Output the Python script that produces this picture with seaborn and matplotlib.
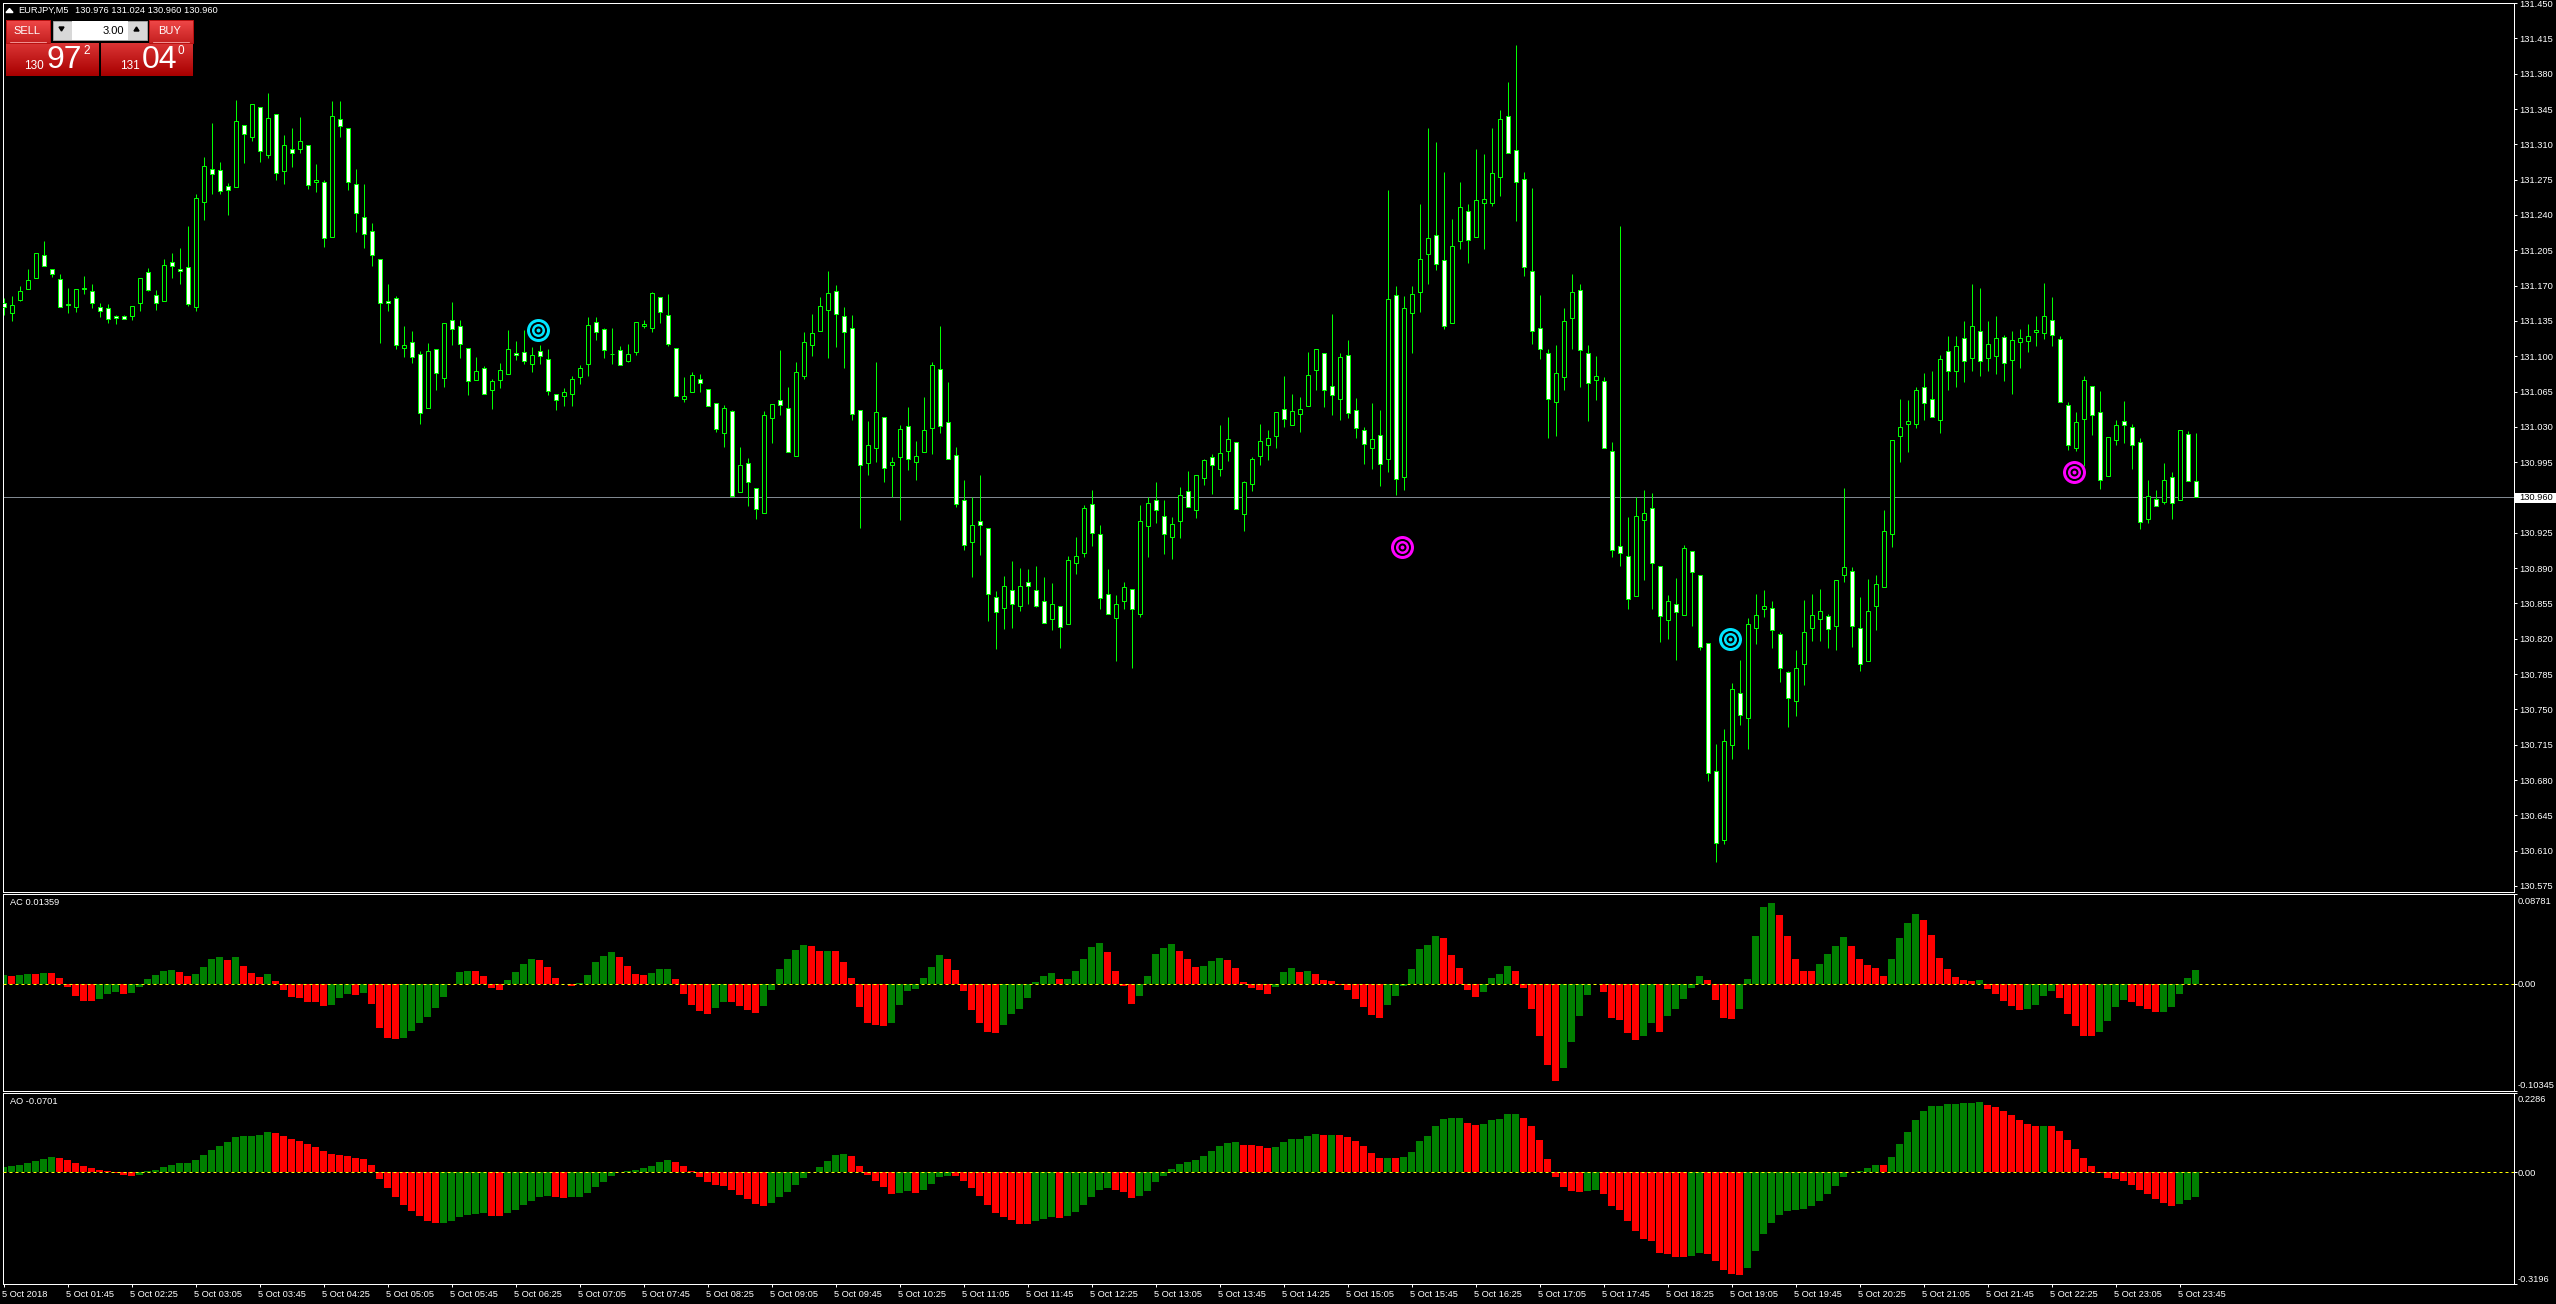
import matplotlib
matplotlib.use('Agg')
import matplotlib.pyplot as plt
from matplotlib.colors import LinearSegmentedColormap
from matplotlib.patches import Rectangle
from matplotlib.transforms import ScaledTranslation
import numpy as np
import pandas as pd
import seaborn as sns

W, H = 2556, 1304

# EURJPY M5 candles, prices as points above 130.000
highs = [
    1158,1160,1170,1186,1202,1214,1186,1182,1168,1167, 1180,1172,1153,1152,1141,1141,1150,1178,1187,1166,
    1196,1202,1207,1229,1261,1297,1331,1293,1272,1354, 1329,1350,1347,1361,1340,1319,1326,1337,1309,1291,
    1275,1353,1353,1326,1286,1271,1232,1196,1172,1160, 1130,1125,1105,1113,1107,1133,1154,1136,1108,1099,
    1090,1077,1093,1126,1115,1126,1109,1111,1107,1063, 1069,1080,1091,1139,1139,1128,1128,1110,1112,1134,
    1136,1164,1159,1162,1108,1079,1084,1082,1068,1054, 1052,1047,1010,999,969,1046,1053,1106,1070,1094,
    1124,1142,1159,1184,1171,1149,1141,1047,1036,1094, 1040,1000,1032,1050,1016,1060,1094,1130,1074,1010,
    977,960,982,930,867,882,897,890,889,892, 881,875,852,902,921,953,967,933,889,863,
    876,869,953,960,975,958,941,970,986,982, 998,1003,1032,1040,1015,976,1000,1033,1027,1045,
    1080,1063,1060,1104,1107,1103,1142,1103,1116,1059, 1030,1054,1047,1265,1170,1160,1170,1251,1326,1312,
    1283,1236,1273,1251,1305,1300,1326,1344,1372,1408, 1283,1267,1161,1107,1111,1148,1182,1172,1111,1100,
    1079,1015,1229,941,960,967,964,892,863,880, 913,907,883,816,716,731,776,799,841,864,
    868,857,827,788,809,858,864,869,845,878, 969,891,861,879,883,948,1017,1058,1057,1070,
    1083,1085,1101,1120,1120,1135,1172,1168,1135,1140, 1121,1125,1127,1132,1140,1173,1159,1120,1055,1045,
    1080,1071,1066,1020,1037,1056,1033,1019,977,967, 994,985,1027,1026,1024,
]
body_hi = [
    1153,1151,1165,1176,1202,1200,1186,1177,1152,1167, 1168,1165,1149,1148,1140,1140,1150,1178,1183,1161,
    1190,1193,1186,1188,1257,1289,1286,1285,1269,1333, 1329,1350,1347,1336,1340,1309,1305,1313,1309,1275,
    1273,1338,1335,1326,1271,1238,1224,1196,1155,1158, 1111,1114,1102,1105,1107,1133,1136,1130,1108,1085,
    1088,1075,1086,1107,1103,1104,1101,1105,1097,1063, 1065,1077,1088,1131,1134,1127,1102,1106,1102,1134,
    1132,1163,1159,1141,1108,1061,1081,1077,1068,1054, 1049,1046,992,994,969,1042,1053,1057,1049,1084,
    1114,1123,1150,1163,1165,1140,1128,1047,1012,1045, 1040,995,1028,1031,1001,1027,1091,1087,1035,1002,
    958,933,937,930,861,872,868,872,876,868, 857,854,852,898,902,950,954,924,864,854,
    871,869,937,955,958,942,934,962,966,982, 997,1000,1004,1018,1015,975,998,1016,1019,1045,
    1048,1046,1048,1081,1107,1103,1071,1099,1101,1047, 1027,1018,1022,1157,1161,1148,1162,1196,1217,1220,
    1195,1209,1248,1244,1255,1256,1282,1335,1338,1304, 1276,1184,1128,1103,1083,1135,1164,1166,1103,1080,
    1075,1006,912,902,942,945,950,892,857,854, 910,907,883,816,689,719,770,766,835,844,
    852,850,825,787,791,827,844,848,843,878, 891,887,831,848,874,927,1017,1030,1036,1067,
    1070,1058,1097,1105,1110,1118,1130,1125,1112,1118, 1119,1116,1118,1120,1126,1140,1136,1117,1052,1035,
    1076,1071,1045,1020,1032,1036,1030,1015,961,959, 977,980,1027,1023,976,
]
body_lo = [
    1149,1143,1156,1167,1178,1189,1182,1149,1151,1149, 1167,1153,1145,1137,1138,1137,1140,1153,1166,1153,
    1155,1189,1184,1152,1149,1253,1281,1264,1265,1268, 1320,1317,1303,1299,1282,1284,1301,1305,1270,1273,
    1217,1218,1328,1273,1242,1221,1200,1153,1153,1111, 1108,1099,1044,1049,1083,1078,1127,1112,1075,1076,
    1063,1067,1076,1082,1101,1095,1092,1100,1066,1057, 1061,1063,1079,1092,1124,1106,1102,1091,1095,1104,
    1130,1128,1144,1112,1061,1058,1065,1073,1051,1028, 1024,961,965,975,949,945,1039,1052,1005,1001,
    1080,1111,1125,1146,1142,1124,1043,992,994,1009, 989,992,1000,998,995,1005,1029,1031,998,954,
    913,916,933,864,847,850,854,852,872,852, 836,840,832,835,895,905,925,860,845,841,
    857,849,845,932,948,924,921,937,951,948, 979,992,988,1006,949,944,973,1001,1012,1021,
    1038,1032,1043,1051,1086,1067,1062,1058,1044,1029, 1013,1009,993,998,978,980,1143,1164,1201,1191,
    1130,1133,1214,1215,1218,1252,1252,1278,1301,1273, 1188,1125,1107,1058,1055,1079,1138,1106,1073,1076,
    1009,908,905,859,862,938,895,843,839,847, 844,886,812,687,618,621,715,744,741,831,
    849,829,791,761,758,795,831,840,830,833, 883,833,795,798,852,871,924,1021,1033,1033,
    1054,1040,1037,1085,1085,1095,1098,1095,1098,1100, 1093,1096,1114,1115,1124,1123,1121,1055,1012,1009,
    1038,1042,977,981,1017,1032,1012,936,939,952, 956,955,958,976,960,
]
lows = [
    1141,1135,1155,1167,1178,1189,1179,1149,1143,1144, 1162,1148,1139,1133,1132,1137,1136,1145,1165,1146,
    1155,1178,1172,1150,1145,1235,1261,1261,1240,1268, 1292,1313,1293,1296,1275,1271,1288,1301,1266,1263,
    1208,1218,1317,1265,1223,1207,1189,1113,1145,1107, 1099,1093,1033,1049,1067,1070,1111,1098,1062,1076,
    1063,1048,1069,1082,1096,1092,1084,1092,1062,1047, 1051,1051,1072,1080,1116,1098,1092,1091,1094,1101,
    1128,1124,1133,1110,1061,1055,1065,1065,1051,1025, 1010,961,965,952,939,945,1014,1042,1005,1001,
    1077,1100,1125,1098,1109,1088,1037,930,982,995, 975,960,938,987,977,1005,1003,1024,998,951,
    908,881,903,838,810,830,831,848,854,851, 836,829,811,835,884,901,912,849,845,798,
    849,791,842,901,935,904,899,920,951,940, 972,963,981,996,949,927,966,992,997,1009,
    1030,1032,1025,1051,1067,1050,1042,1037,1039,1019, 993,988,971,985,962,967,1103,1144,1172,1185,
    1127,1133,1206,1192,1218,1206,1249,1259,1301,1234, 1180,1112,1097,1019,1021,1067,1107,1070,1036,1057,
    1009,901,892,849,862,878,849,817,820,799, 844,833,809,679,599,617,701,735,711,815,
    842,811,777,733,743,774,818,818,811,809, 876,812,788,798,829,871,911,995,1005,1029,
    1037,1040,1024,1067,1070,1074,1085,1080,1085,1082, 1075,1063,1088,1104,1110,1117,1110,1055,1007,1006,
    991,1022,968,981,1012,1014,988,929,935,952, 954,939,958,976,960,
]
# U = bullish (hollow), D = bearish (white)
candle_dir = (
    'DUUUUDDDDU' 'DDDDDDUUDD' 'UDDDUUDDDU' 'DUDUDUDUDU' 'DUDDDDDDDD' 'UDDUDUDDDU' 'DUUUDDUDDD' 'UUUUDDDDUU'
    'UUDDDUUDDD' 'UDUDDUUDDU' 'UUUUDDDDUU' 'DUUDUUUDDD' 'DUDDDUDUDD' 'DUDUUUDDDU' 'UDUUDDUUDU' 'UDUUDUUUUU'
    'DUUUUDDUDD' 'DUDUDUUUUD' 'DUUDUUUUDD' 'DDDDUUUDDU' 'DDDDUUDDUD' 'UDDDDUUDUU' 'UDDDUUUUDU' 'UDDUUUUUUU'
    'DDUDUDUDUU' 'DUUUUUDDDU' 'UDDUUDDDUD' 'UDUDD'
)

# Accelerator oscillator, in 1e-4
ac_values = [
    90,81,90,100,100,110,110,61,-26,-113, -162,-162,-142,-94,-74,-94,-84,-26,52,90,
    129,139,120,81,100,168,245,265,236,265, 178,110,71,100,32,-55,-123,-132,-171,-171,
    -210,-200,-132,-94,-103,-84,-191,-423,-520,-539, -520,-452,-375,-317,-229,-123,3,120,129,129,
    81,-36,-55,42,120,197,245,236,168,61, 3,-16,10,90,216,275,313,265,178,100,
    90,110,149,149,52,-94,-200,-258,-287,-229, -171,-171,-210,-249,-278,-210,-55,149,245,333,
    381,371,323,323,323,216,61,-220,-375,-394, -404,-375,-200,-65,-45,61,168,284,245,139,
    -65,-249,-375,-462,-472,-394,-287,-239,-132,23, 81,110,52,52,129,245,362,401,313,129,
    -16,-191,-113,81,294,352,391,323,245,168, 178,226,255,236,158,23,-36,-55,-94,-26,
    120,158,120,129,100,42,32,-6,-55,-142, -220,-297,-326,-200,-113,-16,149,342,381,468,
    449,284,158,-55,-123,-74,61,100,178,129, -36,-239,-501,-791,-946,-820,-568,-307,-103,0,
    -74,-326,-346,-481,-549,-501,-375,-462,-307,-239, -142,-36,81,42,-152,-326,-336,-239,52,468,
    749,788,672,468,245,129,129,197,294,371, 459,371,245,187,158,81,245,449,594,682,
    623,478,255,149,71,42,32,42,-45,-94, -162,-210,-249,-239,-200,-113,-65,-132,-287,-413,
    -501,-510,-462,-355,-220,-152,-171,-210,-239,-268, -268,-220,-94,61,136,
]
ac_colours = (
    'GRGGRGRRRR' 'RRGGGRGGGG' 'GGRRGGGGRG' 'RRRGRRRRRR' 'RGGGRGRRRR' 'GGGGGGGGGR' 'RRRGGGGRRR' 'RRGGGGGRRR'
    'RGGGRRRRRG' 'GRRRRGGGGG' 'GRRGRRRRRR' 'RGGGGGGGRR' 'RRRRRGGGGG' 'GGRGGGGGRR' 'RRGGGGGRRR' 'GGGRRRRRRG'
    'GGRGRRRRRR' 'RRRGGGGGGG' 'RRRRRGGGGR' 'RRRRRGGGGG' 'RRRRRGGRGG' 'GGGRRRRGGG' 'GGRRRRRGGG' 'GRRRRRGGGG'
    'RRRRRRRGRR' 'RRRGGGGRRR' 'RRGGGGRRRR' 'GGGGG'
)

# Awesome oscillator, in 1e-4
ao_values = [
    154,182,211,269,326,384,442,413,355,269, 182,125,67,38,-29,-77,-106,-77,19,67,
    154,211,269,269,355,499,643,758,874,1018, 1046,1046,1075,1162,1133,1046,960,902,816,730,
    614,528,499,470,413,384,211,-192,-451,-710, -941,-1114,-1258,-1402,-1459,-1459,-1402,-1286,-1229,-1200,
    -1171,-1258,-1258,-1171,-1085,-941,-826,-710,-682,-710, -739,-710,-710,-595,-422,-278,-106,-10,29,67,
    125,182,298,355,298,182,38,-134,-278,-365, -394,-509,-653,-768,-912,-970,-883,-710,-566,-365,
    -163,10,154,326,499,528,470,182,-77,-250, -422,-624,-595,-538,-595,-509,-336,-134,-106,-106,
    -250,-451,-682,-941,-1171,-1286,-1373,-1488,-1488,-1402, -1344,-1286,-1315,-1258,-1142,-941,-710,-509,-451,-509,
    -566,-739,-682,-538,-278,-106,96,240,298,355, 470,614,758,845,874,787,787,758,701,730,
    874,960,960,1046,1104,1075,1075,1075,1018,902, 758,557,413,413,413,442,586,902,1046,1334,
    1536,1565,1565,1421,1363,1392,1507,1536,1680,1680, 1565,1334,931,384,-134,-422,-538,-566,-538,-509,
    -624,-970,-1085,-1402,-1690,-1920,-1978,-2323,-2352,-2438, -2438,-2410,-2323,-2352,-2554,-2813,-2928,-2957,-2755,-2266,
    -1776,-1459,-1229,-1114,-1085,-1056,-970,-826,-624,-394, -134,-10,19,125,211,211,442,816,1162,1507,
    1766,1910,1910,1968,1968,1997,1997,2026,1939,1882, 1766,1651,1507,1392,1334,1334,1334,1190,931,672,
    413,182,-38,-163,-192,-250,-365,-509,-624,-768, -883,-970,-912,-797,-701,
]
ao_colours = (
    'GGGGGGGRRR' 'RRRRRRRGGG' 'GGGGGGGGGG' 'GGGGRRRRRR' 'RRRRRRRRRR' 'RRRRRGGGGG' 'GRRGGGGGGR' 'RGGGGGGGGG'
    'GGGGRRRRRR' 'RRRRRRGGGG' 'GGGGGGRRRR' 'RRGGRGGGGR' 'RRRRRRRRRG' 'GGRGGGGGGR' 'RRGGGGGGGG' 'GGGGGRRRRG'
    'GGGGGRGRRR' 'RRRGRGGGGG' 'GGGRRGGGGG' 'RRRRRRRRGG' 'RRRRRRRRRR' 'RGGRRRRRGG' 'GGGGGGGGGG' 'GGGGGRGGGG'
    'GGGGGGGGRR' 'RRRRRGRRRR' 'RRRRRRRRRR' 'RRGGG'
)

# target signals: bar number, price
cyan_bars = [66.8, 215.8]
cyan_prices = [131.126, 130.820]
magenta_bars = [174.8, 258.8]
magenta_prices = [130.911, 130.985]

last_price = 130.960
price_ticks = [130.575, 130.610, 130.645, 130.680, 130.715, 130.750, 130.785, 130.820, 130.855, 130.890,
               130.925, 130.960, 130.995, 131.030, 131.065, 131.100, 131.135, 131.170, 131.205, 131.240,
               131.275, 131.310, 131.345, 131.380, 131.415, 131.450]
time_labels = ['5 Oct 2018', '5 Oct 01:45', '5 Oct 02:25', '5 Oct 03:05', '5 Oct 03:45', '5 Oct 04:25', '5 Oct 05:05',
               '5 Oct 05:45', '5 Oct 06:25', '5 Oct 07:05', '5 Oct 07:45', '5 Oct 08:25', '5 Oct 09:05', '5 Oct 09:45',
               '5 Oct 10:25', '5 Oct 11:05', '5 Oct 11:45', '5 Oct 12:25', '5 Oct 13:05', '5 Oct 13:45', '5 Oct 14:25',
               '5 Oct 15:05', '5 Oct 15:45', '5 Oct 16:25', '5 Oct 17:05', '5 Oct 17:45', '5 Oct 18:25', '5 Oct 19:05',
               '5 Oct 19:45', '5 Oct 20:25', '5 Oct 21:05', '5 Oct 21:45', '5 Oct 22:25', '5 Oct 23:05', '5 Oct 23:45']

sns.set_theme(style='dark', rc={'figure.facecolor': 'black', 'axes.facecolor': 'black', 'axes.grid': False,
                                'axes.edgecolor': 'white', 'axes.linewidth': 0.72, 'text.color': 'white',
                                'xtick.color': 'white', 'ytick.color': 'white'})
plt.rcParams['font.family'] = ['Liberation Sans', 'DejaVu Sans']
FS = 6.7
PX = 0.72  # one pixel in points at dpi 100

fig = plt.figure(figsize=(W / 100, H / 100), dpi=100)


def px_axes(left, top, right, bottom):
    return fig.add_axes([left / W, 1 - bottom / H, (right - left) / W, (bottom - top) / H])


def style_panel(ax, ylim, ticks, labels, pad=2):
    ax.set_xlim(-0.125, 313.75)
    ax.set_ylim(*ylim)
    ax.yaxis.tick_right()
    ax.set_yticks(ticks)
    ax.set_yticklabels(labels, fontsize=FS)
    ax.tick_params(axis='y', length=3 * PX, width=PX, pad=pad, left=False)
    ax.tick_params(axis='x', bottom=False, labelbottom=False)
    ax.set_xlabel('')
    ax.set_ylabel('')


def nudge(label, dx_px, dy_px):
    # shift a tick label by some pixels, dy downwards
    label.set_transform(label.get_transform() + ScaledTranslation(dx_px / 100, -dy_px / 100, fig.dpi_scale_trans))


def draw_hist(ax, values, colours):
    df = pd.DataFrame({'bar': np.arange(len(values)), 'value': values, 'colour': list(colours)})
    sns.barplot(data=df, x='bar', y='value', hue='colour', palette={'G': '#008000', 'R': '#ff0000'},
                hue_order=['G', 'R'], dodge=False, native_scale=True, width=0.875, saturation=1,
                errorbar=None, legend=False, linewidth=0, antialiased=False, ax=ax)
    ax.axhline(0, color='#ffff00', lw=PX, ls=(0, (3, 3)), zorder=5)


# main candles
ax = px_axes(2.5, 2.5, 2513.5, 891.5)
bars = np.arange(len(highs))
high = 130 + np.array(highs) / 1000
low = 130 + np.array(lows) / 1000
top = 130 + np.array(body_hi) / 1000
bot = 130 + np.array(body_lo) / 1000
fills = ['black' if c == 'U' else 'white' for c in candle_dir]
ax.axhline(last_price, color='#808890', lw=PX, zorder=1)
ax.vlines(bars, low, high, color='#00ff00', lw=PX, zorder=2)
ax.bar(bars, top - bot, bottom=bot, width=0.5, color=fills, edgecolor='#00ff00', linewidth=PX, zorder=3)
for xs, ys, colour in [(cyan_bars, cyan_prices, '#00e6ff'), (magenta_bars, magenta_prices, '#ff00ff')]:
    for size, col in [(274, colour), (150, 'black'), (88, colour), (33, 'black'), (8, colour)]:
        ax.scatter(xs, ys, s=size, color=col, linewidths=0, zorder=6)
style_panel(ax, (130.5695, 131.4506), price_ticks, [f'{p:.3f}' for p in price_ticks])

# AC panel
ax_ac = px_axes(2.5, 893.5, 2513.5, 1090.5)
draw_hist(ax_ac, np.array(ac_values) / 1e4, ac_colours)
style_panel(ax_ac, (-0.10345, 0.08781), [0.08781, 0, -0.10345], ['0.08781', '0.00', '-0.10345'], pad=0.7)
ax_ac.get_yticklabels()[0].set_va('top')
ax_ac.get_yticklabels()[2].set_va('bottom')
nudge(ax_ac.get_yticklabels()[0], 0, 3)
ax_ac.text(8 / 2511, 0.955, 'AC 0.01359', transform=ax_ac.transAxes, fontsize=FS, va='center')

# AO panel
ax_ao = px_axes(2.5, 1092.5, 2513.5, 1283.5)
draw_hist(ax_ao, np.array(ao_values) / 1e4, ao_colours)
style_panel(ax_ao, (-0.3196, 0.2286), [0.2286, 0, -0.3196], ['0.2286', '0.00', '-0.3196'], pad=0.7)
ax_ao.get_yticklabels()[0].set_va('top')
ax_ao.get_yticklabels()[2].set_va('bottom')
nudge(ax_ao.get_yticklabels()[0], 0, 3)
ax_ao.text(8 / 2511, 0.953, 'AO -0.0701', transform=ax_ao.transAxes, fontsize=FS, va='center')
ax_ao.set_xticks(np.arange(0, 8 * len(time_labels), 8))
ax_ao.set_xticklabels(time_labels, fontsize=FS, ha='left')
ax_ao.tick_params(axis='x', bottom=True, labelbottom=True, length=3 * PX, width=PX, pad=2.4)
for lab in ax_ao.get_xticklabels():
    nudge(lab, -1.5, 0)

# trade panel and price flag, drawn in pixel coordinates
ui = fig.add_axes([0, 0, 1, 1])
ui.patch.set_visible(False)
ui.axis('off')


def gradient(x0, y0, x1, y1, c0, c1):
    cmap = LinearSegmentedColormap.from_list('g', [c0, c1])
    ui.imshow(np.linspace(0, 1, 32)[:, None], extent=(x0, x1, y1, y0), aspect='auto', cmap=cmap,
              interpolation='bilinear', zorder=2)


gradient(6, 20, 50, 43, '#f04848', '#c42020')
gradient(149, 20, 193, 43, '#f04848', '#c42020')
gradient(6, 43, 99, 76, '#da3434', '#a80000')
gradient(101, 43, 193, 76, '#da3434', '#a80000')
for x0, x1 in [(6, 50), (149, 193)]:
    ui.add_patch(Rectangle((x0, 20), x1 - x0, 23, fill=False, ec='#b81010', lw=PX, zorder=3))
    ui.plot([x0 + 4, x1 - 4], [42, 42], color='#f09090', lw=PX, zorder=3)
ui.add_patch(Rectangle((51, 20), 98, 23, fc='black', ec='none', zorder=3))
ui.add_patch(Rectangle((53, 21), 94, 19, fc='#d8d8d8', ec='#a0a0a0', lw=PX, zorder=4))
ui.add_patch(Rectangle((72, 21), 56, 19, fc='white', ec='none', zorder=5))
ui.fill([59, 64, 61.5], [27, 27, 31], color='black', zorder=5)
ui.fill([134, 139, 136.5], [31, 31, 27], color='black', zorder=5)
ui.fill([6, 13, 9.5], [12.5, 12.5, 8.5], color='white', zorder=5)

kw = dict(zorder=6, va='center')
ui.text(18, 10.5, 'EURJPY,M5', fontsize=FS, **kw)
ui.text(75, 10.5, '130.976 131.024 130.960 130.960', fontsize=FS, **kw)
ui.text(27, 31, 'SELL', fontsize=8, ha='center', **kw)
ui.text(170, 31, 'BUY', fontsize=8, ha='center', **kw)
ui.text(124, 30.5, '3.00', fontsize=8, ha='right', color='black', **kw)
ui.text(24, 66, '130', fontsize=8.5, **kw)
ui.text(46, 59.5, '97', fontsize=23, **kw)
ui.text(83, 51, '2', fontsize=8.5, **kw)
ui.text(120, 66, '131', fontsize=8.5, **kw)
ui.text(142, 59.5, '04', fontsize=23, **kw)
ui.text(178, 51, '0', fontsize=8.5, **kw)
ui.add_patch(Rectangle((2515, 492.5), 41, 10, fc='white', ec='none', zorder=5))
ui.text(2519, 497.5, f'{last_price:.3f}', fontsize=FS, color='black', **kw)
ui.set_xlim(0, W)
ui.set_ylim(H, 0)

fig.savefig('out.png', dpi=100, facecolor='black')
